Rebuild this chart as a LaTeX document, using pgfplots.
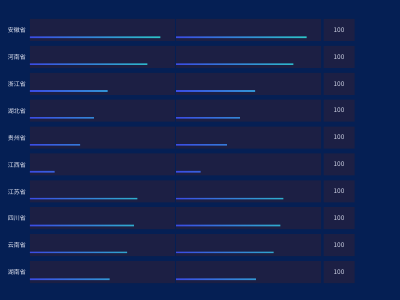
\documentclass[border=0pt]{standalone}
\usepackage{pgfplots}
\usepackage{pgfplotstable}
\pgfplotsset{compat=1.18}
\usepackage{fontspec}
\newfontfamily\cjk{Noto Sans CJK SC}
\definecolor{bgc}{RGB}{5,31,84}
\definecolor{panel}{RGB}{28,31,68}
\definecolor{gA}{RGB}{58,76,228}
\definecolor{gB}{RGB}{44,196,200}
\definecolor{lab}{RGB}{230,233,245}
\definecolor{num}{RGB}{205,209,228}

\pgfplotstableread{
idx left right val
1 90 90 100
2 81 81 100
3 53.6 54.5 100
4 44 44 100
5 34.5 35 100
6 17 17 100
7 74 74 100
8 71.7 72 100
9 67 67.3 100
10 55 55 100
}\datatab

\pgfplotsset{
  rowaxis/.style={
    scale only axis, height=264pt,
    y dir=reverse, ymin=0.591, ymax=10.409,
    axis line style={draw=none}, tick style={draw=none},
    xtick=\empty, enlargelimits=false,
    clip=false,
  },
}

\begin{document}
\begin{tikzpicture}[x=1pt,y=1pt]
\fill[bgc] (0,0) rectangle (400,300);

% left panel
\begin{axis}[rowaxis, at={(30pt,281pt)}, anchor=north west, width=145pt,
  xmin=0, xmax=100,
  ytick={1,...,10},
  yticklabels={安徽省,河南省,浙江省,湖北省,贵州省,江西省,江苏省,四川省,云南省,湖南省},
  yticklabel style={font=\cjk\fontsize{6}{7}\selectfont, text=lab, xshift=-0.5pt, yshift=-0.5pt},
]
\addplot[xbar, bar width=22pt, fill=panel, draw=none] table[x expr=100, y=idx] {\datatab};
\addplot[xbar, bar width=1.6pt, draw=none, left color=gA, right color=gB]
  table[x=left, y expr=\thisrow{idx}+0.27] {\datatab};
\end{axis}

% right panel
\begin{axis}[rowaxis, at={(176pt,281pt)}, anchor=north west, width=145pt,
  xmin=0, xmax=100, ytick=\empty,
]
\addplot[xbar, bar width=22pt, fill=panel, draw=none] table[x expr=100, y=idx] {\datatab};
\addplot[xbar, bar width=1.6pt, draw=none, left color=gA, right color=gB]
  table[x=right, y expr=\thisrow{idx}+0.27] {\datatab};
\end{axis}

% value boxes
\begin{axis}[rowaxis, at={(323.5pt,281pt)}, anchor=north west, width=31pt,
  xmin=0, xmax=1, ytick=\empty,
  point meta=explicit,
  nodes near coords={\cjk\pgfmathprintnumber[assume math mode=true]{\pgfplotspointmeta}},
  every node near coord/.append style={anchor=center, xshift=-15.5pt, text=num, font=\cjk\fontsize{6.5}{7}\selectfont},
]
\addplot[xbar, bar width=22pt, fill=panel, draw=none] table[x expr=1, y=idx, meta=val] {\datatab};
\end{axis}
\end{tikzpicture}
\end{document}
